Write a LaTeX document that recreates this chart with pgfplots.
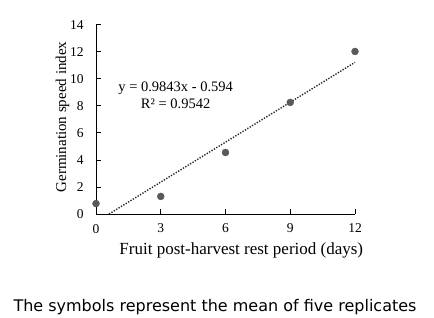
\documentclass[border=0pt]{standalone}
\usepackage{fontspec}
\setmainfont{Liberation Serif}
\newfontfamily\capfont{DejaVu Sans}
\usepackage{pgfplots}
\pgfplotsset{compat=1.18}
\definecolor{mk}{HTML}{5A5A5A}
\begin{document}
\begin{tikzpicture}
\path[use as bounding box, fill=white] (0,0) rectangle (434pt,318pt);
\begin{axis}[
  at={(96pt,104pt)}, anchor=south west,
  scale only axis, width=259pt, height=189.3pt,
  xmin=0, xmax=12, ymin=0, ymax=14,
  axis x line*=bottom, axis y line*=left,
  axis line style={black, line width=0.8pt},
  xtick={0,3,6,9,12}, ytick={0,2,...,14},
  tick align=inside, major tick length=4.5pt,
  tick style={black, line width=0.8pt},
  /pgf/number format/assume math mode=true,
  ticklabel style={font=\fontsize{13.5}{15}\selectfont},
  yticklabel style={xshift=-8.8pt},
  xticklabel style={yshift=-6.5pt},
  xlabel={Fruit post-harvest rest period (days)},
  xlabel style={at={(rel axis cs:0.561,0)}, anchor=base, yshift=-41pt, font=\fontsize{17}{19}\selectfont},
  ylabel={Germination speed index},
  ylabel style={at={(axis description cs:-0.1158,0.512)}, anchor=base, font=\fontsize{15}{17}\selectfont},
  clip=false,
]
\addplot[black!85, line width=1.4pt, dash pattern=on 1.3pt off 1.5pt] coordinates {(0.6035,0) (12,11.2176)};
\addplot[only marks, mark=*, mark size=3.5pt, mk, mark options={draw=mk, fill=mk}] coordinates {
(0,0.77) (3,1.3) (6,4.55) (9,8.25) (12,12.02)};
\node[anchor=base, font=\fontsize{14.5}{16.6}\selectfont] at (axis cs:3.69,9.045) {y = 0.9843x - 0.594};
\node[anchor=base, font=\fontsize{14.5}{16.6}\selectfont] at (axis cs:3.69,7.82) {R² = 0.9542};
\end{axis}
\node[anchor=base, font=\capfont\fontsize{16}{19}\selectfont] at (215pt,6.3pt) {The symbols represent the mean of five replicates};
\end{tikzpicture}
\end{document}
